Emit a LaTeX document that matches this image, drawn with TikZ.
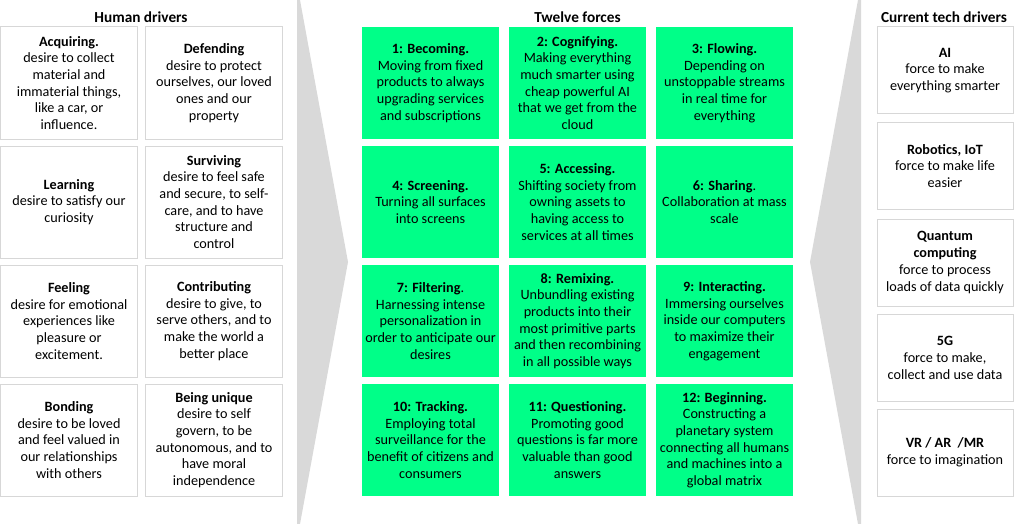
\documentclass[tikz,border=0pt]{standalone}
\usepackage{fontspec}
\setmainfont{Carlito}
\definecolor{ForceGreen}{RGB}{0,255,136}
\definecolor{WedgeGrey}{RGB}{217,217,217}
\definecolor{EdgeGrey}{RGB}{215,215,215}

\begin{document}
\begin{tikzpicture}[x=1pt, y=-1pt,
    humanbox/.style={draw=EdgeGrey, line width=1pt, fill=white, minimum width=137pt, minimum height=112pt, inner sep=0pt, align=center, font=\fontsize{14.2}{16.7}\selectfont},
    forcebox/.style={fill=ForceGreen, minimum width=137pt, minimum height=112pt, inner sep=0pt, align=center, font=\fontsize{14.2}{16.7}\selectfont},
    techbox/.style={draw=EdgeGrey, line width=1pt, fill=white, minimum width=136pt, minimum height=87pt, inner sep=0pt, align=center, font=\fontsize{14.2}{16.7}\selectfont},
    coltitle/.style={font=\fontsize{15.3}{17}\selectfont\bfseries, inner sep=0pt}]
                \useasboundingbox (0,0) rectangle (1024,524);

                % Grey wedges
                \fill[WedgeGrey] (297,0) -- (300,0) -- (348,262) -- (300,524) -- (297,524) -- cycle;
                \fill[WedgeGrey] (861,0) -- (858,0) -- (810,262) -- (858,524) -- (861,524) -- cycle;

                % Human drivers
                \node[coltitle] (thd) at (141,17) {Human drivers};
                \node[humanbox] (hd1) at (69,83) {\textbf{Acquiring.}\\desire to collect\\material and\\immaterial things,\\like a car, or\\influence.};
                \node[humanbox] (hd2) at (214,83) {\textbf{Defending}\\desire to protect\\ourselves, our loved\\ones and our\\property};
                \node[humanbox] (hd3) at (69,202) {\textbf{Learning}\\desire to satisfy our\\curiosity};
                \node[humanbox] (hd4) at (214,202) {\textbf{Surviving}\\desire to feel safe\\and secure, to self-\\care, and to have\\structure and\\control};
                \node[humanbox] (hd5) at (69,321) {\textbf{Feeling}\\desire for emotional\\experiences like\\pleasure or\\excitement.};
                \node[humanbox] (hd6) at (214,321) {\textbf{Contributing}\\desire to give, to\\serve others, and to\\make the world a\\better place};
                \node[humanbox] (hd7) at (69,440) {\textbf{Bonding}\\desire to be loved\\and feel valued in\\our relationships\\with others};
                \node[humanbox] (hd8) at (214,440) {\textbf{Being unique}\\desire to self\\govern, to be\\autonomous, and to\\have moral\\independence};

                % Twelve forces
                \node[coltitle] (ttf) at (577.5,17) {Twelve forces};
                \node[forcebox] (tf1) at (430.5,83) {\textbf{1: Becoming.}\\Moving from fixed\\products to always\\upgrading services\\and subscriptions};
                \node[forcebox] (tf2) at (577.5,83) {\textbf{2: Cognifying.}\\Making everything\\much smarter using\\cheap powerful AI\\that we get from the\\cloud};
                \node[forcebox] (tf3) at (724.5,83) {\textbf{3: Flowing.}\\Depending on\\unstoppable streams\\in real time for\\everything};
                \node[forcebox] (tf4) at (430.5,202) {\textbf{4: Screening.}\\Turning all surfaces\\into screens};
                \node[forcebox] (tf5) at (577.5,202) {\textbf{5: Accessing.}\\Shifting society from\\owning assets to\\having access to\\services at all times};
                \node[forcebox] (tf6) at (724.5,202) {\textbf{6: Sharing}.\\Collaboration at mass\\scale};
                \node[forcebox] (tf7) at (430.5,321) {\textbf{7: Filtering}.\\Harnessing intense\\personalization in\\order to anticipate our\\desires};
                \node[forcebox] (tf8) at (577.5,321) {\textbf{8: Remixing.}\\Unbundling existing\\products into their\\most primitive parts\\and then recombining\\in all possible ways};
                \node[forcebox] (tf9) at (724.5,321) {\textbf{9: Interacting.}\\Immersing ourselves\\inside our computers\\to maximize their\\engagement};
                \node[forcebox] (tf10) at (430.5,440) {\textbf{10: Tracking.}\\Employing total\\surveillance for the\\benefit of citizens and\\consumers};
                \node[forcebox] (tf11) at (577.5,440) {\textbf{11: Questioning.}\\Promoting good\\questions is far more\\valuable than good\\answers};
                \node[forcebox] (tf12) at (724.5,440) {\textbf{12: Beginning.}\\Constructing a\\planetary system\\connecting all humans\\and machines into a\\global matrix};

                % Current tech drivers
                \node[coltitle] (ttd) at (944,17) {Current tech drivers};
                \node[techbox] (td1) at (945,70.5) {\textbf{AI}\\force to make\\everything smarter};
                \node[techbox] (td2) at (945,166) {\textbf{Robotics, IoT}\\force to make life\\easier};
                \node[techbox] (td3) at (945,262.5) {\textbf{Quantum}\\\textbf{computing}\\force to process\\loads of data quickly};
                \node[techbox] (td4) at (945,358) {\textbf{5G}\\force to make,\\collect and use data};
                \node[techbox] (td5) at (945,452.5) {\textbf{VR / AR \ /MR}\\force to imagination};
            \end{tikzpicture}
\end{document}
